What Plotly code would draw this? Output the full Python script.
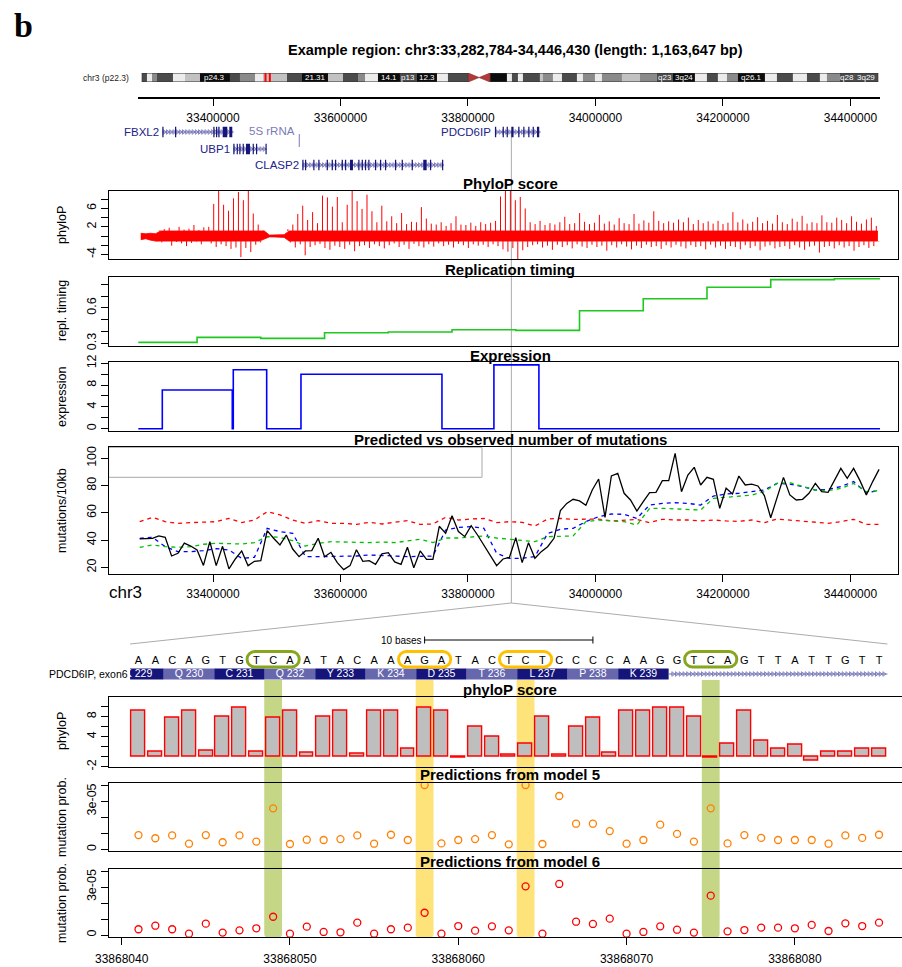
import numpy as np
import plotly.graph_objects as go

W, H = 902, 967
FONT = "Liberation Sans, Arial, Helvetica, sans-serif"
NARROW = "Liberation Sans Narrow, Arial Narrow, Liberation Sans, Arial, sans-serif"

# ------------------------------------------------------------------ data
CHROM = "chr3"
REGION_START, REGION_END = 33282784, 34446430
REGION_MID = 33868063

# chromosome 3 ideogram (Mb) and Giemsa stain classes
band_start = [0.0, 1.42, 2.77, 4.11, 8.41, 11.64, 15.67, 23.73, 26.42, 30.46, 32.61, 39.06,
              43.09, 50.08, 54.11, 58.15, 60.03, 63.52, 69.43, 74.0, 79.38, 82.33,
              93.62, 98.19, 99.53, 101.15, 102.49, 107.06, 107.87, 110.56, 112.98, 117.01,
              118.62, 121.85, 123.73, 129.11, 133.94, 138.51, 142.81, 148.73, 151.95, 154.91,
              157.33, 160.29, 167.55, 170.77, 175.07, 178.84, 182.33, 184.21, 187.71, 191.74]
band_end = [1.42, 2.77, 4.11, 8.41, 11.64, 15.67, 23.73, 26.42, 30.46, 32.61, 39.06, 43.09,
            50.08, 54.11, 58.15, 60.03, 63.52, 69.43, 74.0, 79.38, 82.33, 87.79,
            98.19, 99.53, 101.15, 102.49, 107.06, 107.87, 110.56, 112.98, 117.01, 118.62,
            121.85, 123.73, 129.11, 133.94, 138.51, 142.81, 148.73, 151.95, 154.91, 157.33,
            160.29, 167.55, 170.77, 175.07, 178.84, 182.33, 184.21, 187.71, 191.74, 198.02]
band_stain = ["g75", "w", "g50", "g75", "w", "g25", "g100", "g75", "g50", "w", "g25", "g75",
              "g100", "g25", "g75", "g50", "w", "g100", "g75", "g100", "w", "g75",
              "g100", "w", "g75", "w", "g75", "g25", "g50", "w", "g75", "w",
              "g50", "w", "g50", "g25", "g50", "g75", "g100", "w", "g75", "w",
              "g50", "g100", "w", "g75", "w", "g75", "w", "g50", "g75", "g75"]
band_label_mb = [19.7, 46.6, 66.5, 71.6, 76.7, 140.7, 145.8, 163.8, 189.6, 194.7]
band_label_txt = ["p24.3", "21.31", "14.1", "p13", "12.3", "q23", "3q24", "q26.1", "q28", "3q29"]
CENTROMERE = (87.79, 93.62)
CHR_LEN_MB = 198.02

# genes in the region
gene_names = ["FBXL2", "UBP1", "CLASP2", "PDCD6IP"]
gene_start = [33320430, 33431800, 33540034, 33842304]
gene_end = [33430232, 33484192, 33761207, 33911793]
gene_row = [0, 1, 2, 0]
gene_exons = [
    [(33320430, 33322400), (33340350, 33342300), (33400430, 33402400), (33404660, 33406600),
     (33408270, 33410300), (33415170, 33422390), (33425530, 33430232)],
    [(33431800, 33433800), (33437100, 33439000), (33441200, 33443100), (33446500, 33448400),
     (33451700, 33458000), (33462200, 33464100), (33467400, 33469300), (33482300, 33484192)],
    [(33540034, 33542000), (33544270, 33546200), (33557290, 33559200), (33565130, 33567100),
     (33578310, 33580300), (33586150, 33588100), (33591330, 33593300), (33601840, 33603800),
     (33607010, 33609000), (33614860, 33619560), (33627880, 33629800), (33633210, 33635200),
     (33638390, 33640300), (33643560, 33645500), (33654070, 33656000), (33661920, 33663900),
     (33669760, 33671700), (33685440, 33687400), (33695950, 33697900), (33711640, 33713600),
     (33729840, 33735170), (33740350, 33742300), (33759300, 33761207)],
    [(33842304, 33844300), (33854380, 33856300), (33860660, 33862600), (33868000, 33871500),
     (33878850, 33880800), (33886700, 33888600), (33894540, 33896500), (33901440, 33903400),
     (33908190, 33911793)],
]
RRNA_POS = 33535330

# phyloP (base-wise conservation) envelope, 150 bins across the region
phylop_hi = [0.6, 0.5, 0.6, 0.5, 1.2, 1.5, 1.8, 1.1, 2.0, 1.4,
             1.6, 2.4, 1.3, 1.9, 2.0, 7.0, 9.9, 6.8, 5.5, 8.2,
             9.6, 7.8, 9.9, 4.9, 2.5, 1.2, 0.2, 0.2, 0.2, 0.3,
             1.5, 2.5, 4.8, 6.6, 3.5, 5.2, 2.8, 8.8, 8.4, 6.4,
             8.5, 3.0, 6.8, 9.9, 7.6, 5.9, 9.0, 5.4, 3.0, 6.6,
             3.2, 4.3, 2.8, 5.0, 2.6, 3.1, 3.0, 6.3, 3.8, 2.7,
             2.5, 3.0, 2.2, 2.8, 4.3, 2.5, 2.4, 2.9, 2.2, 3.0,
             2.6, 2.9, 3.3, 8.6, 9.9, 9.9, 7.8, 8.5, 6.0, 3.0,
             2.6, 3.3, 2.4, 2.8, 2.5, 3.0, 4.2, 2.6, 2.8, 5.0,
             3.1, 2.6, 2.9, 4.6, 2.7, 3.2, 2.5, 3.9, 2.8, 2.6,
             4.8, 2.7, 3.4, 2.9, 5.4, 3.3, 2.8, 3.2, 2.9, 3.6,
             3.0, 4.0, 2.6, 3.5, 2.8, 3.2, 2.7, 3.3, 2.6, 2.9,
             5.2, 3.0, 3.6, 2.7, 3.1, 4.1, 2.8, 3.3, 2.7, 4.6,
             3.0, 2.6, 3.8, 3.1, 4.4, 2.7, 3.0, 2.8, 4.5, 3.0,
             2.9, 4.0, 3.5, 2.8, 4.3, 3.1, 2.7, 3.6, 4.0, 2.2]
phylop_lo = [-0.8, -0.6, -0.9, -1.2, -1.4, -1.0, -2.1, -1.3, -1.6, -2.2,
             -1.5, -1.2, -1.8, -1.0, -1.6, -2.4, -1.8, -2.2, -2.8, -2.5,
             -4.6, -2.6, -3.5, -1.9, -1.4, -0.6, -0.2, -0.2, -0.2, -0.3,
             -1.4, -2.5, -1.8, -4.2, -2.4, -2.0, -1.7, -2.6, -3.0, -2.1,
             -2.4, -2.8, -1.9, -3.3, -2.2, -2.0, -2.6, -1.8, -2.2, -2.7,
             -2.0, -1.6, -2.4, -1.9, -2.8, -1.7, -2.2, -2.5, -1.8, -2.3,
             -1.6, -2.2, -1.9, -2.5, -1.7, -2.0, -2.6, -1.8, -2.1, -1.9,
             -2.4, -1.8, -2.2, -2.9, -3.4, -2.6, -5.0, -3.1, -2.4, -2.0,
             -1.8, -2.5, -2.1, -3.0, -1.9, -2.4, -2.0, -2.7, -1.8, -2.3,
             -2.6, -1.9, -2.4, -2.1, -3.2, -2.0, -2.5, -1.8, -2.3, -2.9,
             -2.1, -2.6, -1.9, -2.4, -2.2, -2.8, -2.0, -2.5, -1.9, -2.3,
             -2.7, -2.0, -2.4, -2.2, -2.9, -1.9, -2.5, -2.1, -2.8, -2.2,
             -2.4, -2.9, -2.0, -2.6, -2.2, -3.1, -2.3, -2.0, -2.7, -2.4,
             -2.2, -2.8, -2.0, -2.5, -3.0, -2.3, -2.1, -3.6, -2.4, -2.2,
             -2.7, -2.0, -2.5, -2.2, -3.2, -2.4, -2.0, -2.6, -2.2, -1.2]
PHYLOP_CORE = 1.1   # most bases fall inside +/- this band, drawn solid

# replication timing (100 kb steps)
rep_edges = [33282784, 33375000, 33475000, 33575000, 33675000, 33775000, 33875000,
             33975000, 34075000, 34175000, 34275000, 34375000, 34446430]
rep_values = [0.308, 0.350, 0.342, 0.390, 0.396, 0.415, 0.410, 0.576, 0.678, 0.775, 0.840, 0.847]

# gene expression (per gene body)
expr_edges = [33282784, 33320430, 33430232, 33431800, 33484192, 33538000, 33759200,
              33840700, 33911300, 34446430]
expr_values = [0, 7.1, 0, 10.8, 0, 10.0, 0, 11.7, 0]

# mutations per 10 kb: observed (10 kb windows) and model predictions (20 kb windows)
mut_obs = [40.8, 41.3, 41.3, 43.0, 42.0, 28.3, 30.3, 37.8, 35.6, 32.7,
           21.4, 38.8, 21.2, 35.4, 18.8, 26.1, 32.0, 21.2, 24.4, 24.9,
           46.9, 41.3, 36.4, 43.7, 33.4, 27.8, 32.0, 32.2, 41.3, 27.8,
           31.0, 23.4, 18.3, 21.2, 32.9, 24.4, 24.9, 22.2, 29.8, 30.7,
           23.9, 22.2, 34.7, 19.7, 32.0, 25.8, 25.8, 50.1, 44.9, 57.9,
           46.2, 42.5, 50.6, 43.7, 36.4, 29.0, 21.2, 26.1, 27.3, 41.7,
           23.4, 38.1, 26.6, 31.5, 35.1, 41.3, 61.6, 66.9, 69.9, 68.7,
           65.5, 76.7, 84.8, 56.7, 87.0, 89.0, 74.3, 69.4, 61.3, 68.2,
           74.8, 75.0, 83.6, 83.6, 103.6, 75.5, 87.7, 93.4, 80.4, 86.0,
           84.6, 63.3, 78.0, 73.8, 87.0, 80.4, 81.1, 79.7, 72.6, 56.4,
           71.8, 86.0, 73.1, 69.4, 69.9, 74.3, 81.6, 75.5, 75.0, 84.1,
           92.6, 85.3, 92.6, 83.6, 73.1, 82.9, 91.9]
pred_red = [53.5, 56.7, 53.5, 52.3, 52.8, 53.2, 53.5, 55.9, 52.8, 54.7,
            60.8, 58.4, 54.7, 52.3, 54.2, 52.3, 52.3, 51.5, 53.0, 51.8,
            53.0, 54.2, 51.5, 51.8, 56.7, 54.7, 55.4, 55.9, 52.8, 53.5,
            53.0, 50.3, 55.4, 55.9, 55.2, 55.4, 55.4, 54.0, 54.7, 55.2,
            52.8, 55.2, 54.7, 54.7, 54.0, 54.7, 54.0, 53.7, 54.7, 52.8,
            55.4, 54.7, 54.0, 53.5, 52.3, 53.5, 55.2, 51.5, 51.5]
pred_blue = [41.3, 42.0, 35.1, 31.5, 31.5, 32.2, 33.7, 32.7, 26.6, 27.3,
             48.6, 46.2, 44.9, 27.8, 27.8, 27.8, 27.8, 28.3, 29.0, 28.8,
             28.3, 27.8, 27.8, 28.3, 47.4, 49.3, 49.8, 48.6, 30.3, 26.6,
             26.6, 27.8, 44.9, 47.9, 48.6, 53.5, 57.2, 59.1, 58.9, 55.9,
             65.7, 66.9, 67.4, 66.9, 65.7, 72.3, 73.8, 74.3, 75.5, 76.7,
             81.6, 81.1, 79.2, 76.7, 77.2, 79.2, 82.9, 74.8, 76.3]
pred_green = [34.7, 36.4, 35.1, 34.7, 35.1, 36.9, 37.6, 37.6, 37.1, 38.1,
              42.5, 42.0, 39.5, 35.6, 37.6, 38.8, 38.6, 38.6, 38.1, 38.6,
              38.1, 39.3, 40.5, 38.1, 41.5, 41.5, 42.0, 43.0, 41.5, 40.5,
              40.0, 38.8, 42.5, 42.5, 43.0, 53.5, 54.7, 54.0, 53.5, 51.0,
              63.3, 63.3, 63.0, 62.5, 62.0, 70.6, 71.3, 72.3, 73.0, 75.5,
              81.6, 82.1, 79.2, 76.7, 76.3, 77.9, 81.6, 75.5, 76.3]

# zoomed window: PDCD6IP exon 6
ZOOM_FIRST = 33868041
SEQ = "AACAGTGTCAATACAAAGATACTCTCCCCAAGGTCAGTTATTGTT"
codon_labels = ["K 229", "Q 230", "C 231", "Q 232", "Y 233", "K 234",
                "D 235", "T 236", "L 237", "P 238", "K 239"]
codon_first = [33868040, 33868043, 33868046, 33868049, 33868052, 33868055,
               33868058, 33868061, 33868064, 33868067, 33868070]
EXON_END = 33868072.5
highlight_center = [33868049, 33868058, 33868064, 33868075]
highlight_kind = ["green", "yellow", "yellow", "green"]

phylop_base = [9.3, 1.0, 7.8, 9.3, 1.3, 8.1, 9.9, 1.1, 7.9, 9.3,
               0.9, 8.1, 9.3, 0.7, 9.3, 9.3, 1.7, 9.9, 9.3, -0.2,
               6.1, 4.0, 0.4, 2.7, 8.1, 0.4, 6.1, 7.8, 0.9, 9.3,
               9.3, 9.9, 9.9, 8.1, -0.2, 2.7, 9.2, 3.3, 1.6, 2.5,
               -0.7, 1.1, 1.0, 1.7, 1.7]
model5_e5 = [0.89, 0.69, 0.87, 0.35, 0.89, 0.44, 0.87, 0.48, 2.56, 0.33,
             0.60, 0.58, 0.64, 0.87, 0.35, 0.91, 0.58, 4.02, 0.37, 0.58,
             0.64, 0.89, 0.31, 4.02, 0.33, 3.33, 1.60, 1.60, 1.14, 0.35,
             0.58, 1.54, 0.96, 0.48, 2.56, 0.37, 0.89, 0.71, 0.58, 0.58,
             0.58, 0.35, 0.87, 0.71, 0.91]
model6_e5 = [0.36, 0.58, 0.36, 0.08, 0.71, 0.15, 0.29, 0.42, 1.14, 0.08,
             0.52, 0.19, 0.17, 0.77, 0.08, 0.36, 0.46, 1.39, 0.08, 0.56,
             0.27, 0.54, 0.29, 3.04, 0.08, 3.19, 0.83, 0.69, 1.02, 0.08,
             0.19, 0.54, 0.33, 0.15, 2.46, 0.23, 0.31, 0.46, 0.46, 0.42,
             0.63, 0.25, 0.73, 0.56, 0.77]
model5_prob = [v * 1e-5 for v in model5_e5]
model6_prob = [v * 1e-5 for v in model6_e5]

upper_ticks = [33400000, 33600000, 33800000, 34000000, 34200000, 34400000]
lower_ticks = [33868040, 33868050, 33868060, 33868070, 33868080]

# ------------------------------------------------------------------ geometry
def ydom(top, bottom):
    return [1 - bottom / H, 1 - top / H]


def xdom(left, right):
    return [left / W, right / W]


def py(row):
    return 1 - row / H


# region drawn from px 138.3 to 880 inside panels spanning 108.6..898
G_L, G_R = 138.3, 880.0
BP_PER_PX = (REGION_END - REGION_START) / (G_R - G_L)
P_L, P_R = 108.6, 898.0
up_range = [REGION_START - (G_L - P_L) * BP_PER_PX, REGION_END + (P_R - G_R) * BP_PER_PX]

# zoom window: 16.83 px per base, first base centred at px 138.5
PX_PER_BASE = 16.83
Z_L = 109.3
FIRST_PX = 138.5
low_range = [ZOOM_FIRST - (FIRST_PX - Z_L) / PX_PER_BASE, ZOOM_FIRST + (W - FIRST_PX) / PX_PER_BASE]
# sequence track is clipped at the left edge of the window
S_L = FIRST_PX - 0.5 * PX_PER_BASE
seq_range = [ZOOM_FIRST - 0.5, low_range[1]]


def up_paper(g):
    return (P_L + (g - up_range[0]) / BP_PER_PX) / W


def low_paper(b):
    return (Z_L + (b - low_range[0]) * PX_PER_BASE) / W


base_pos = [ZOOM_FIRST + i for i in range(len(SEQ))]
mut_pos = [33285000 + 10000 * i for i in range(len(mut_obs))]
pred_pos = [33285000 + 20000 * i for i in range(len(pred_red))]

fig = go.Figure()
shapes, annos = [], []


def note(x, y, text, xref="paper", yref="paper", xanchor="center", size=12, family=FONT,
         color="black", **kw):
    d = dict(x=x, y=y, xref=xref, yref=yref, text=text, showarrow=False, xanchor=xanchor,
             yanchor="middle", font=dict(family=family, size=size, color=color))
    d.update(kw)
    annos.append(d)


# ------------------------------------------------------------------ traces
# upper phyloP track: solid core band plus upward / downward spikes per bin
n_bins = len(phylop_hi)
bin_w = (REGION_END - REGION_START) / n_bins
centres = [REGION_START + (k + 0.5) * bin_w for k in range(n_bins)]
core_top = [min(h, PHYLOP_CORE) for h in phylop_hi]
core_bot = [max(l, -PHYLOP_CORE) for l in phylop_lo]
fig.add_trace(go.Scatter(x=centres + centres[::-1], y=core_top + core_bot[::-1], mode="lines",
                         fill="toself", fillcolor="#ff0000", line=dict(color="#ff0000", width=0.8),
                         xaxis="x", yaxis="y", hoverinfo="skip"))
sx, sy = [], []
for k in range(n_bins):
    c = centres[k]
    sx += [c - 0.25 * bin_w, c - 0.25 * bin_w, None, c + 0.25 * bin_w, c + 0.25 * bin_w, None]
    sy += [core_top[k], phylop_hi[k], None, core_bot[k], phylop_lo[k], None]
fig.add_trace(go.Scatter(x=sx, y=sy, mode="lines", line=dict(color="#ff0000", width=1.0),
                         xaxis="x", yaxis="y", hoverinfo="skip", connectgaps=False))

fig.add_trace(go.Scatter(x=rep_edges, y=rep_values + [rep_values[-1]], mode="lines",
                         line=dict(color="#1ec81e", width=1.6, shape="hv"),
                         xaxis="x2", yaxis="y2"))
fig.add_trace(go.Scatter(x=expr_edges, y=expr_values + [expr_values[-1]], mode="lines",
                         line=dict(color="#0000ff", width=1.6, shape="hv"),
                         xaxis="x3", yaxis="y3"))

for vals, col in [(pred_red, "#ff0000"), (pred_blue, "#0000ff"), (pred_green, "#00c000")]:
    fig.add_trace(go.Scatter(x=pred_pos, y=vals, mode="lines",
                             line=dict(color=col, width=1.3, dash="4px,4px"),
                             xaxis="x4", yaxis="y4"))
fig.add_trace(go.Scatter(x=mut_pos, y=mut_obs, mode="lines", line=dict(color="black", width=1.3),
                         xaxis="x4", yaxis="y4"))

# placeholders for shape-only subplots
for ax in ["5", "6", "7"]:
    fig.add_trace(go.Scatter(x=[None], y=[None], xaxis="x" + ax, yaxis="y" + ax,
                             mode="markers", showlegend=False))

# intron chevrons on the gene models
INTRON_COL = "#6b6bb3"
GENE_COL = "#16167a"
ROW_Y = [132, 149, 165]
for name, s, e, r in zip(gene_names, gene_start, gene_end, gene_row):
    y = ROW_Y[r]
    fig.add_trace(go.Scatter(x=[s, e], y=[y, y], mode="lines",
                             line=dict(color=INTRON_COL, width=1), xaxis="x7", yaxis="y7"))
    marks = np.arange(s + 2 * BP_PER_PX, e, 3.2 * BP_PER_PX)
    fig.add_trace(go.Scatter(x=marks, y=[y] * len(marks), mode="markers",
                             marker=dict(symbol="triangle-right-open", size=4, color=INTRON_COL,
                                         line=dict(width=0.8)),
                             xaxis="x7", yaxis="y7"))

# sequence letters
fig.add_trace(go.Scatter(x=base_pos, y=[661] * len(SEQ), mode="text", text=list(SEQ),
                         textfont=dict(family=FONT, size=11, color="black"),
                         xaxis="x8", yaxis="y8", cliponaxis=False))
# intron after the exon
intr = np.arange(EXON_END + 0.25, base_pos[-1] + 0.5, 0.22)
fig.add_trace(go.Scatter(x=[EXON_END, base_pos[-1] + 0.5], y=[674, 674], mode="lines",
                         line=dict(color=INTRON_COL, width=1), xaxis="x8", yaxis="y8"))
fig.add_trace(go.Scatter(x=intr, y=[674] * len(intr), mode="markers",
                         marker=dict(symbol="triangle-right-open", size=4, color=INTRON_COL,
                                     line=dict(width=0.8)),
                         xaxis="x8", yaxis="y8"))
# codon labels (the first codon is cut by the window edge)
fig.add_trace(go.Scatter(x=[f + 1 for f in codon_first], y=[674] * len(codon_first), mode="text",
                         text=codon_labels, textfont=dict(family=FONT, size=10.5, color="white"),
                         xaxis="x8", yaxis="y8", cliponaxis=True))

# base-wise phyloP bars
fig.add_trace(go.Bar(x=base_pos, y=phylop_base, width=0.83,
                     marker=dict(color="#bebebe", line=dict(color="#ff0000", width=1.4)),
                     xaxis="x9", yaxis="y9"))
fig.add_trace(go.Scatter(x=base_pos, y=model5_prob, mode="markers",
                         marker=dict(symbol="circle-open", size=7, color="#ff7f00",
                                     line=dict(width=1.3)),
                         xaxis="x10", yaxis="y10"))
fig.add_trace(go.Scatter(x=base_pos, y=model6_prob, mode="markers",
                         marker=dict(symbol="circle-open", size=7, color="#ff0000",
                                     line=dict(width=1.3)),
                         xaxis="x11", yaxis="y11"))

# ------------------------------------------------------------------ ideogram
STAIN = {"w": "#ececec", "g25": "#c2c2c2", "g50": "#8a8a8a", "g75": "#4b4b4b", "g100": "#0c0c0c"}
for s, e, st in zip(band_start, band_end, band_stain):
    shapes.append(dict(type="rect", xref="x5", yref="y5", x0=s, x1=e, y0=0, y1=1,
                       fillcolor=STAIN[st], line=dict(width=0)))
for s, e in [(0, CENTROMERE[0]), (CENTROMERE[1], CHR_LEN_MB)]:
    shapes.append(dict(type="rect", xref="x5", yref="y5", x0=s, x1=e, y0=0, y1=1,
                       line=dict(color="#303030", width=1)))
cm = (CENTROMERE[0] + CENTROMERE[1]) / 2
for a in CENTROMERE:
    shapes.append(dict(type="path", xref="x5", yref="y5",
                       path=f"M {a},0 L {cm},0.5 L {a},1 Z",
                       fillcolor="#b03a3a", line=dict(color="#8a2a2a", width=0.6)))
shapes.append(dict(type="rect", xref="x5", yref="y5", x0=REGION_START / 1e6, x1=REGION_END / 1e6,
                   y0=-0.12, y1=1.12, line=dict(color="#ff0000", width=2)))
for m, t in zip(band_label_mb, band_label_txt):
    note(m, 0.5, t, xref="x5", yref="y5", size=8, family=NARROW, color="white")
note(131 / W, py(78), "chr3 (p22.3)", xanchor="right", size=8.5, color="#222")

# ------------------------------------------------------------------ gene models
for name, s, e, r, exons in zip(gene_names, gene_start, gene_end, gene_row, gene_exons):
    y = ROW_Y[r]
    for a, b in exons:
        shapes.append(dict(type="rect", xref="x7", yref="y7", x0=a, x1=b, y0=y - 5.3, y1=y + 5.3,
                           fillcolor=GENE_COL, line=dict(width=0)))
    note(s, y, name, xref="x7", yref="y7", xanchor="right", xshift=-1.5, size=11.5,
         family=NARROW, color="#22228a")
shapes.append(dict(type="line", xref="x7", yref="y7", x0=RRNA_POS, x1=RRNA_POS, y0=134, y1=147,
                   line=dict(color="#7b7bb5", width=1)))
note(RRNA_POS, 131, "5S rRNA", xref="x7", yref="y7", xanchor="right", xshift=-2, size=11.5,
     family=NARROW, color="#7b7bb5")

# ------------------------------------------------------------------ zoom connectors
shapes.append(dict(type="line", xref="x", yref="paper", x0=REGION_MID, x1=REGION_MID,
                   y0=py(603), y1=py(131), line=dict(color="#ababab", width=1), layer="below"))
for b in [base_pos[0] - 0.5, base_pos[-1] + 0.5]:
    shapes.append(dict(type="line", xref="paper", yref="paper", x0=up_paper(REGION_MID), y0=py(603),
                       x1=low_paper(b), y1=py(644), line=dict(color="#ababab", width=1)))

# ------------------------------------------------------------------ sequence / protein track
CAPS = {"green": ("#c5d786", "#86a61e"), "yellow": ("#fee27a", "#ffc000")}


def stadium(x0, x1, y0, y1, rx, ry):
    c = 0.5523
    return (f"M {x0 + rx},{y0} L {x1 - rx},{y0} "
            f"C {x1 - rx + c * rx},{y0} {x1},{y0 + ry - c * ry} {x1},{y0 + ry} "
            f"L {x1},{y1 - ry} "
            f"C {x1},{y1 - ry + c * ry} {x1 - rx + c * rx},{y1} {x1 - rx},{y1} "
            f"L {x0 + rx},{y1} "
            f"C {x0 + rx - c * rx},{y1} {x0},{y1 - ry + c * ry} {x0},{y1 - ry} "
            f"L {x0},{y0 + ry} "
            f"C {x0},{y0 + ry - c * ry} {x0 + rx - c * rx},{y0} {x0 + rx},{y0} Z")


def round_bottom(x0, x1, ytop, ybot, rx, ry):
    c = 0.5523
    return (f"M {x0},{ytop} L {x1},{ytop} L {x1},{ybot + ry} "
            f"C {x1},{ybot + ry - c * ry} {x1 - rx + c * rx},{ybot} {x1 - rx},{ybot} "
            f"L {x0 + rx},{ybot} "
            f"C {x0 + rx - c * rx},{ybot} {x0},{ybot + ry - c * ry} {x0},{ybot + ry} Z")


for ctr, kind in zip(highlight_center, highlight_kind):
    fill, edge = CAPS[kind]
    shapes.append(dict(type="path", xref="x9", yref="paper", layer="below",
                       path=round_bottom(ctr - 0.53, ctr + 0.53, py(680), py(938),
                                         4 / PX_PER_BASE, 4 / H),
                       fillcolor=fill, line=dict(width=0)))
    shapes.append(dict(type="path", xref="x8", yref="y8",
                       path=stadium(ctr - 1.55, ctr + 1.55, 651.5, 667, 7.75 / PX_PER_BASE, 7.75),
                       line=dict(color=edge, width=3)))

for i, f in enumerate(codon_first):
    x0 = max(f - 0.5, seq_range[0])
    col = "#14147a" if i % 2 == 0 else "#6767ae"
    shapes.append(dict(type="rect", xref="x8", yref="y8", x0=x0, x1=f + 2.5, y0=668.5, y1=679.5,
                       fillcolor=col, line=dict(width=0), layer="below"))
note(130 / W, py(674), "PDCD6IP, exon6", xanchor="right", size=10.5)

# 10-base scale bar centred on the window
mid = (base_pos[0] + base_pos[-1]) / 2
sb0, sb1 = mid - 5, mid + 5
shapes.append(dict(type="line", xref="x8", yref="y8", x0=sb0, x1=sb1, y0=640, y1=640,
                   line=dict(color="black", width=1)))
for xb in (sb0, sb1):
    shapes.append(dict(type="line", xref="x8", yref="y8", x0=xb, x1=xb, y0=636.5, y1=643.5,
                       line=dict(color="black", width=1)))
note(sb0, 640, "10 bases", xref="x8", yref="y8", xanchor="right", xshift=-1, size=10)

# mutation panel: empty key box in the upper-left corner
shapes.append(dict(type="rect", xref="x4 domain", yref="y4 domain", x0=0, x1=(482 - P_L) / (P_R - P_L),
                   y0=(574.3 - 477.3) / (574.3 - 447.3), y1=1, fillcolor="white",
                   line=dict(color="#a8a8a8", width=1), layer="below"))

# ------------------------------------------------------------------ titles / labels
TITLE_X = 510 / W
note(515 / W, py(50), "<b>Example region: chr3:33,282,784-34,446,430 (length: 1,163,647 bp)</b>",
     size=14.5)
for text, row in [("PhyloP score", 183), ("Replication timing", 270), ("Expression", 355),
                  ("Predicted vs observed number of mutations", 440), ("phyloP score", 689),
                  ("Predictions from model 5", 774), ("Predictions from model 6", 861)]:
    note(TITLE_X, py(row), f"<b>{text}</b>", size=15)

for text, row in [("phyloP", 225), ("repl. timing", 311), ("expression", 397),
                  ("mutations/10kb", 511), ("phyloP", 731), ("mutation prob.", 817),
                  ("mutation prob.", 903)]:
    note(62 / W, py(row), text, textangle=-90, size=12.5, family=NARROW)

note(126 / W, py(592), CHROM, size=17)
note(23 / W, py(25), "<b>b</b>", size=34, family="Liberation Serif, Times New Roman, serif")

# ------------------------------------------------------------------ axes
BOX = dict(showline=True, linecolor="black", linewidth=1.2, mirror=True, showgrid=False,
           zeroline=False, fixedrange=True, automargin=False)
YT = dict(ticks="outside", ticklen=7, tickwidth=1, tickcolor="black", tickangle=-90,
          tickfont=dict(family=NARROW, size=12.5, color="black"))


def up_x(anchor, **kw):
    d = dict(**BOX)
    d.update(domain=xdom(P_L, P_R), range=up_range, anchor=anchor, ticks="", showticklabels=False)
    d.update(kw)
    return d


def low_x(anchor, **kw):
    d = dict(**BOX)
    d.update(domain=xdom(Z_L, W), range=low_range, anchor=anchor, ticks="", showticklabels=False)
    d.update(kw)
    return d


def yax(anchor, dom, rng, tv, tt, mirror=True):
    d = dict(**BOX)
    d.update(YT)
    d.update(domain=dom, range=rng, anchor=anchor, tickvals=tv, ticktext=tt, mirror=mirror)
    return d


HIDDEN = dict(visible=False, fixedrange=True, automargin=False)

layout = dict(
    width=W, height=H, margin=dict(l=0, r=0, t=0, b=0, pad=0, autoexpand=False),
    showlegend=False, paper_bgcolor="white", plot_bgcolor="rgba(0,0,0,0)", font=dict(family=FONT),
    xaxis=up_x("y"),
    yaxis=yax("x", ydom(191, 259), [-5.0, 9.8], [-4, -2, 0, 2, 4, 6, 8],
              ["-4", "", "", "2", "", "6", ""]),
    xaxis2=up_x("y2"),
    yaxis2=yax("x2", ydom(277, 345.7), [0.2797, 0.862], [0.3, 0.4, 0.5, 0.6, 0.7, 0.8],
               ["0.3", "", "", "0.6", "", ""]),
    xaxis3=up_x("y3"),
    yaxis3=yax("x3", ydom(362.3, 431.3), [-0.48, 12.18], [0, 2, 4, 6, 8, 10, 12],
               ["0", "", "4", "", "8", "", "12"]),
    xaxis4=up_x("y4", ticks="outside", ticklen=7, tickwidth=1, tickcolor="black",
                showticklabels=True, tickvals=upper_ticks, ticktext=[str(t) for t in upper_ticks],
                tickfont=dict(family=FONT, size=12, color="black"), ticklabelstandoff=1),
    yaxis4=yax("x4", ydom(447.3, 574.3), [14.86, 108.07], [20, 40, 60, 80, 100],
               ["20", "40", "60", "80", "100"]),
    xaxis5=dict(HIDDEN, domain=xdom(141.7, 878.3), range=[0, CHR_LEN_MB], anchor="y5"),
    yaxis5=dict(HIDDEN, domain=ydom(73, 82), range=[0, 1], anchor="x5"),
    xaxis6=dict(domain=xdom(G_L, G_R), range=[REGION_START, REGION_END], anchor="y6",
                showline=True, linecolor="black", linewidth=1.8, ticks="outside", ticklen=7.5,
                tickwidth=1.2, tickcolor="black", tickvals=upper_ticks,
                ticktext=[str(t) for t in upper_ticks], showgrid=False, zeroline=False,
                tickfont=dict(family=FONT, size=12, color="black"), ticklabelstandoff=1,
                fixedrange=True, automargin=False),
    yaxis6=dict(HIDDEN, domain=ydom(88, 96.7), range=[0, 1], anchor="x6"),
    xaxis7=dict(HIDDEN, domain=xdom(G_L, G_R), range=[REGION_START, REGION_END], anchor="y7"),
    yaxis7=dict(HIDDEN, domain=ydom(120, 176), range=[176, 120], anchor="x7"),
    xaxis8=dict(HIDDEN, domain=xdom(S_L, W), range=seq_range, anchor="y8"),
    yaxis8=dict(HIDDEN, domain=ydom(632, 684), range=[684, 632], anchor="x8"),
    xaxis9=low_x("y9"),
    yaxis9=yax("x9", ydom(696.7, 766.7), [-2.0, 12.0], [-2, 0, 2, 4, 6, 8, 10],
               ["-2", "", "", "4", "", "8", ""], mirror=False),
    xaxis10=low_x("y10"),
    yaxis10=yax("x10", ydom(783.3, 851.3), [-0.125e-5, 4.125e-5], [0, 1e-5, 2e-5, 3e-5, 4e-5],
                ["0", "", "", "3e-05", ""], mirror=False),
    xaxis11=low_x("y11", ticks="outside", ticklen=7, tickwidth=1, tickcolor="black",
                  showticklabels=True, tickvals=lower_ticks, ticktext=[str(t) for t in lower_ticks],
                  tickfont=dict(family=FONT, size=12, color="black"), ticklabelstandoff=3),
    yaxis11=yax("x11", ydom(869, 937), [-0.125e-5, 4.125e-5], [0, 1e-5, 2e-5, 3e-5, 4e-5],
                ["0", "", "", "3e-05", ""], mirror=False),
    shapes=shapes,
    annotations=annos,
    bargap=0,
)
fig.update_layout(**layout)
fig.write_html("out.html", post_script="document.body.style.margin='0';")
